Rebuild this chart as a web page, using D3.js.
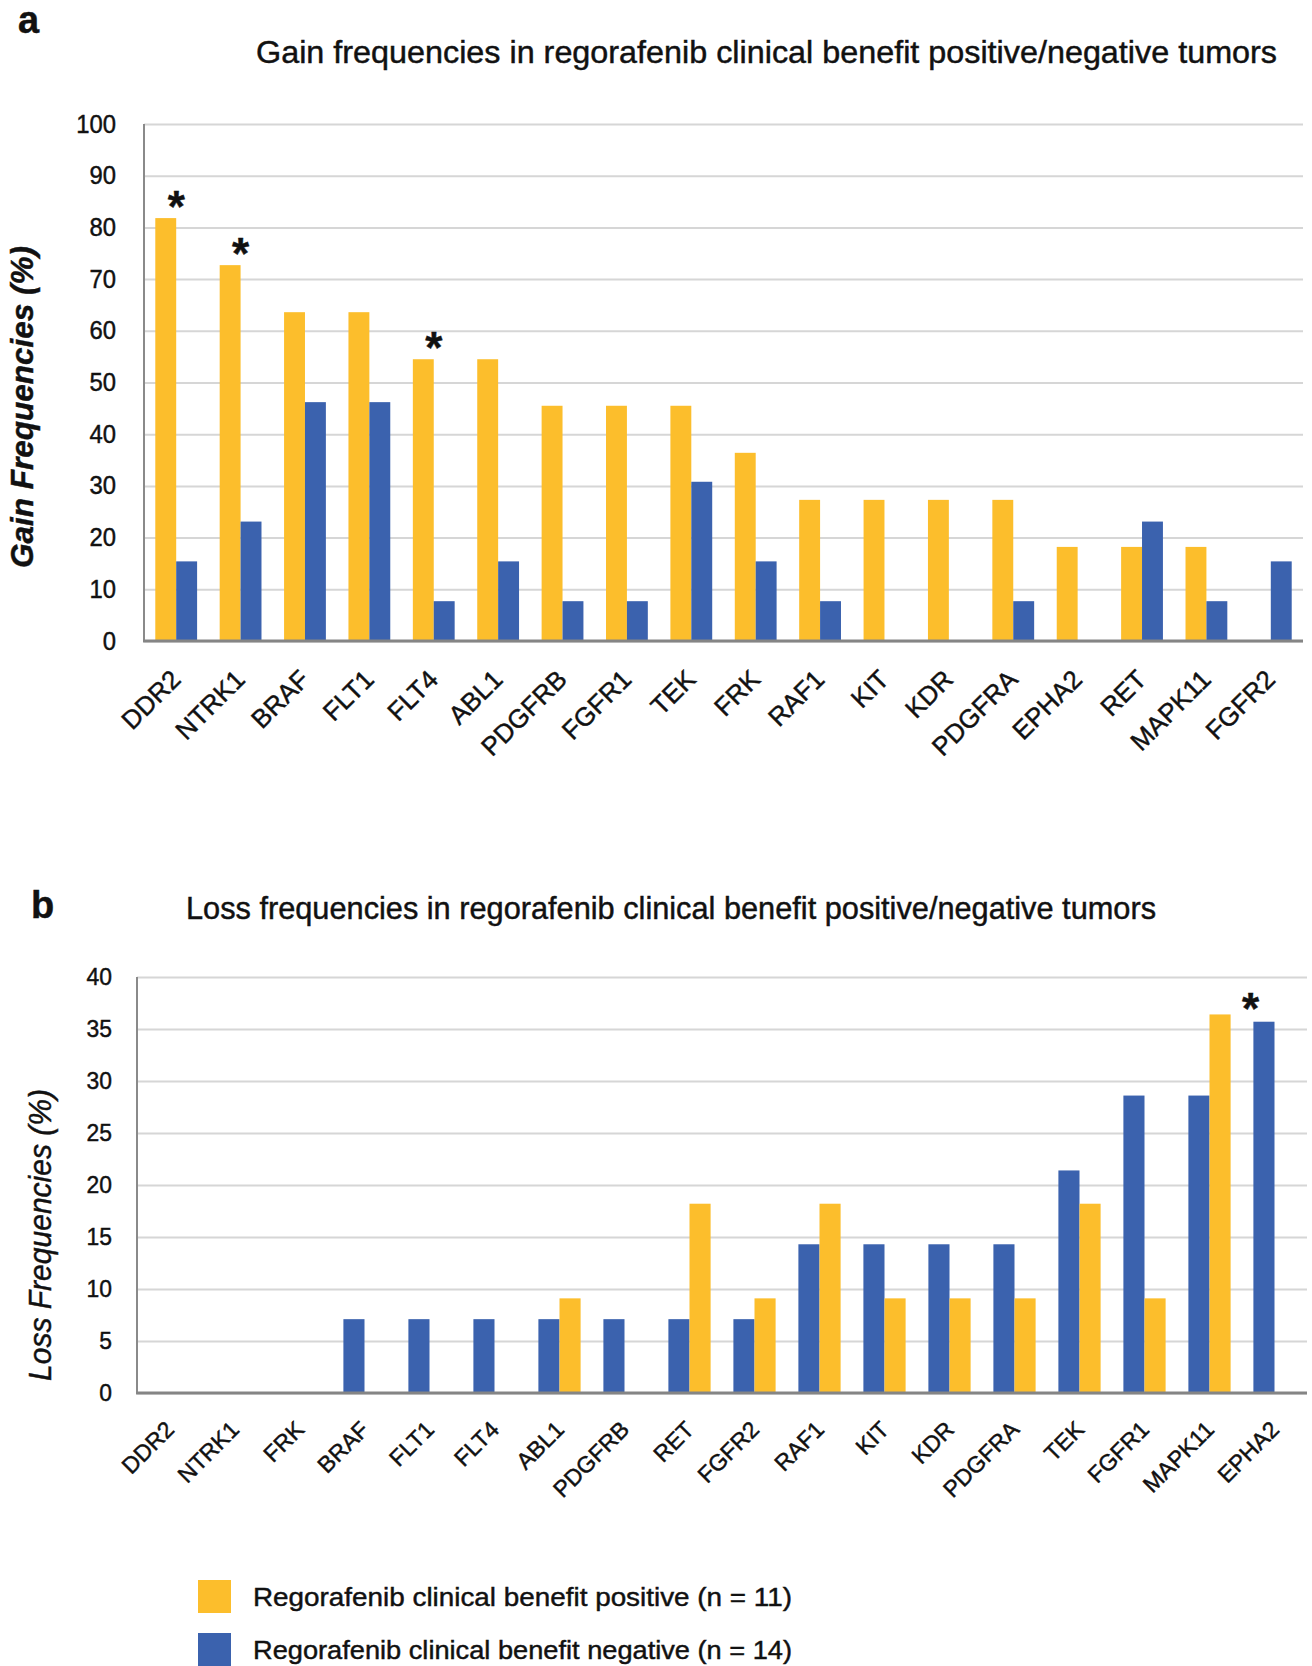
<!DOCTYPE html>
<html>
<head>
<meta charset="utf-8">
<script src="https://cdn.jsdelivr.net/npm/d3@7"></script>
<style>
  html, body { margin: 0; padding: 0; background: #fff; }
  svg { display: block; }
  text { font-family: "Liberation Sans", Arial, Helvetica, sans-serif; fill: #111; stroke: #111; stroke-width: 0.45px; }
</style>
</head>
<body>
<svg id="fig" width="1312" height="1666"></svg>
<script>
// Panel a: copy-number gain frequencies (%)
const gainGenes = ["DDR2","NTRK1","BRAF","FLT1","FLT4","ABL1","PDGFRB","FGFR1","TEK","FRK","RAF1","KIT","KDR","PDGFRA","EPHA2","RET","MAPK11","FGFR2"];
const gainPositive = [81.8,72.7,63.6,63.6,54.5,54.5,45.5,45.5,45.5,36.4,27.3,27.3,27.3,27.3,18.2,18.2,18.2,0];
const gainNegative = [15.4,23.1,46.2,46.2,7.7,15.4,7.7,7.7,30.8,15.4,7.7,0,0,7.7,0,23.1,7.7,15.4];
const gainSignificant = ["DDR2","NTRK1","FLT4"];
const gainTicks = [0,10,20,30,40,50,60,70,80,90,100];

// Panel b: copy-number loss frequencies (%)
const lossGenes = ["DDR2","NTRK1","FRK","BRAF","FLT1","FLT4","ABL1","PDGFRB","RET","FGFR2","RAF1","KIT","KDR","PDGFRA","TEK","FGFR1","MAPK11","EPHA2"];
const lossNegative = [0,0,0,7.1,7.1,7.1,7.1,7.1,7.1,7.1,14.3,14.3,14.3,14.3,21.4,28.6,28.6,35.7];
const lossPositive = [0,0,0,0,0,0,9.1,0,18.2,9.1,18.2,9.1,9.1,9.1,18.2,9.1,36.4,0];
const lossSignificant = ["EPHA2"];
const lossTicks = [0,5,10,15,20,25,30,35,40];

const seriesLabels = {
  pos: "Regorafenib clinical benefit positive (n = 11)",
  neg: "Regorafenib clinical benefit negative (n = 14)"
};
const colors = { pos: "#fcbe2c", neg: "#3b62ae" };

const svg = d3.select("#fig");

function drawPanel(cfg) {
  const g = svg.append("g");
  const x0 = d3.scaleBand().domain(cfg.genes).range([cfg.left, cfg.right]);
  const x1 = d3.scaleBand().domain(cfg.order).range([0, x0.bandwidth()]).paddingOuter(0.54);
  const y = d3.scaleLinear().domain([0, cfg.max]).range([cfg.bottom, cfg.top]);

  // horizontal gridlines
  g.append("g")
    .attr("transform", `translate(${cfg.left},0)`)
    .call(d3.axisRight(y).tickValues(cfg.ticks).tickSize(cfg.right - cfg.left).tickFormat(""))
    .call(a => a.select(".domain").remove())
    .call(a => a.selectAll("line").attr("stroke", "#d6d6d6").attr("stroke-width", 2));

  // y tick labels
  g.append("g")
    .attr("transform", `translate(${cfg.labelRight},0)`)
    .call(d3.axisLeft(y).tickValues(cfg.ticks).tickSize(0).tickPadding(0))
    .call(a => a.select(".domain").remove())
    .call(a => a.selectAll("text")
      .attr("font-size", cfg.tickFont)
      .attr("fill", "#111")
      .attr("font-family", "Liberation Sans, Arial, sans-serif")
      .attr("textLength", d => String(d).length * cfg.tickFont * 0.53)
      .attr("lengthAdjust", "spacingAndGlyphs"));

  // bars
  const rows = cfg.genes.map((gene, i) => ({ gene, pos: cfg.pos[i], neg: cfg.neg[i] }));
  const groups = g.append("g").selectAll("g").data(rows).join("g")
    .attr("transform", d => `translate(${x0(d.gene)},0)`);
  groups.selectAll("rect")
    .data(d => cfg.order.map(k => ({ key: k, value: d[k] })).filter(d => d.value > 0))
    .join("rect")
    .attr("x", d => x1(d.key))
    .attr("width", x1.bandwidth())
    .attr("y", d => y(d.value))
    .attr("height", d => y(0) - y(d.value))
    .attr("fill", d => colors[d.key]);

  // axis lines
  g.append("line")
    .attr("x1", cfg.left).attr("x2", cfg.left)
    .attr("y1", y(cfg.max)).attr("y2", y(0))
    .attr("stroke", "#8a8a8a").attr("stroke-width", 2);
  g.append("line")
    .attr("x1", cfg.left - 1).attr("x2", cfg.right)
    .attr("y1", y(0)).attr("y2", y(0))
    .attr("stroke", "#858585").attr("stroke-width", 3);

  // rotated gene labels
  g.append("g").selectAll("text").data(cfg.genes).join("text")
    .attr("text-anchor", "end")
    .attr("font-size", cfg.geneFont)
    .attr("transform", d => `translate(${x0(d) + x0.bandwidth() / 2 + cfg.geneDx},${y(0) + cfg.geneDy}) rotate(-45)`)
    .text(d => d);

  // significance marks
  g.append("g").selectAll("text").data(cfg.significant).join("text")
    .attr("text-anchor", "middle")
    .attr("font-size", 44)
    .attr("font-weight", "bold")
    .attr("x", d => x0(d) + x0.bandwidth() / 2 + cfg.starDx)
    .attr("y", d => {
      const i = cfg.genes.indexOf(d);
      return y(Math.max(cfg.pos[i], cfg.neg[i])) + cfg.starDy;
    })
    .text("*");

  // y-axis title
  g.append("text")
    .attr("transform", `translate(${cfg.yTitleX},${cfg.yTitleY}) rotate(-90)`)
    .attr("text-anchor", "middle")
    .attr("font-size", cfg.yTitleFont)
    .attr("font-weight", cfg.yTitleWeight)
    .attr("font-style", "italic")
    .attr("textLength", cfg.yTitleW)
    .attr("lengthAdjust", "spacingAndGlyphs")
    .text(cfg.yTitle);

  // chart title
  g.append("text")
    .attr("x", cfg.titleX).attr("y", cfg.titleY)
    .attr("font-size", 31)
    .attr("textLength", cfg.titleW)
    .attr("lengthAdjust", "spacingAndGlyphs")
    .text(cfg.title);

  // panel letter
  g.append("text")
    .attr("x", cfg.letterX).attr("y", cfg.letterY)
    .attr("font-size", 38).attr("font-weight", "bold")
    .text(cfg.letter);
}

drawPanel({
  genes: gainGenes, pos: gainPositive, neg: gainNegative, order: ["pos", "neg"],
  significant: gainSignificant, ticks: gainTicks, max: 100,
  left: 144, right: 1303, top: 124, bottom: 641,
  labelRight: 116, tickFont: 25,
  geneFont: 26, geneDx: 6, geneDy: 40,
  starDx: 0, starDy: 4,
  yTitle: "Gain Frequencies (%)", yTitleX: 33, yTitleY: 407, yTitleFont: 32, yTitleWeight: "bold", yTitleW: 322,
  title: "Gain frequencies in regorafenib clinical benefit positive/negative tumors",
  titleX: 256, titleY: 63, titleW: 1021,
  letter: "a", letterX: 18, letterY: 33
});

drawPanel({
  genes: lossGenes, pos: lossPositive, neg: lossNegative, order: ["neg", "pos"],
  significant: lossSignificant, ticks: lossTicks, max: 40,
  left: 137, right: 1307, top: 977, bottom: 1393,
  labelRight: 112, tickFont: 24,
  geneFont: 23, geneDx: 6, geneDy: 38,
  starDx: -24, starDy: 2,
  yTitle: "Loss Frequencies (%)", yTitleX: 51, yTitleY: 1235, yTitleFont: 31, yTitleWeight: "normal", yTitleW: 292,
  title: "Loss frequencies in regorafenib clinical benefit positive/negative tumors",
  titleX: 186, titleY: 919, titleW: 970,
  letter: "b", letterX: 31, letterY: 918
});

// legend
const legend = svg.append("g").selectAll("g").data(["pos", "neg"]).join("g")
  .attr("transform", (d, i) => `translate(198,${1580 + i * 53})`);
legend.append("rect").attr("width", 33).attr("height", 33).attr("fill", d => colors[d]);
legend.append("text")
  .attr("x", 55).attr("y", 26)
  .attr("font-size", 26)
  .attr("textLength", 539)
  .attr("lengthAdjust", "spacingAndGlyphs")
  .text(d => seriesLabels[d]);
</script>
</body>
</html>
